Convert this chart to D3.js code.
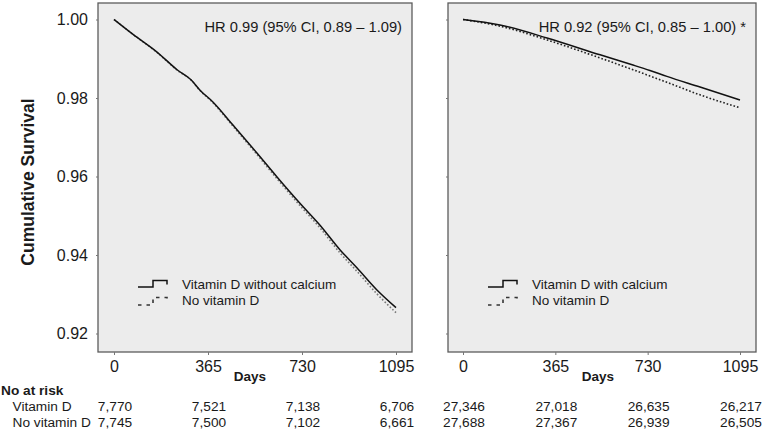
<!DOCTYPE html>
<html>
<head>
<meta charset="utf-8">
<script src="https://cdn.jsdelivr.net/npm/d3@7"></script>
<style>
  html, body { margin: 0; padding: 0; background: #fff; }
  svg { display: block; font-family: "Liberation Sans", Arial, sans-serif; }
</style>
</head>
<body>
<svg id="chart" width="762" height="430"></svg>
<script>
// ---- Data ----
const dayTicks = [0, 365, 730, 1095];
const yTicks = [0.92, 0.94, 0.96, 0.98, 1.00];

const leftDays   = [0, 74, 167, 245, 300, 334, 384, 462, 555, 633, 722, 800, 878, 944, 1021, 1095];
const leftVitD   = [1.000, 0.9962, 0.9917, 0.9872, 0.9846, 0.9820, 0.9790, 0.9731, 0.9660, 0.9599, 0.9532, 0.9476, 0.9413, 0.9367, 0.9311, 0.9266];
const leftNoVitD = [1.000, 0.9962, 0.9916, 0.9871, 0.9845, 0.9819, 0.9788, 0.9728, 0.9656, 0.9594, 0.9526, 0.9469, 0.9405, 0.9358, 0.9301, 0.9253];

const rightDays   = [0, 146, 332, 542, 672, 739, 806, 937, 1095];
const rightVitD   = [1.000, 0.9986, 0.9953, 0.9910, 0.9884, 0.9870, 0.9855, 0.9828, 0.9795];
const rightNoVitD = [1.000, 0.9983, 0.9948, 0.9902, 0.9872, 0.9856, 0.9840, 0.9808, 0.9775];

const leftHR  = "HR 0.99 (95% CI, 0.89 \u2013 1.09)";
const rightHR = "HR 0.92 (95% CI, 0.85 \u2013 1.00) *";
const leftLegend  = ["Vitamin D without calcium", "No vitamin D"];
const rightLegend = ["Vitamin D with calcium", "No vitamin D"];

const riskRowLabels = ["Vitamin D", "No vitamin D"];
const leftRiskVitD   = ["7,770", "7,521", "7,138", "6,706"];
const leftRiskNoVitD = ["7,745", "7,500", "7,102", "6,661"];
const rightRiskVitD   = ["27,346", "27,018", "26,635", "26,217"];
const rightRiskNoVitD = ["27,688", "27,367", "26,939", "26,505"];

// ---- Drawing ----
const svg = d3.select("#chart");
const textColor = "#1a1a1a";

const y = d3.scaleLinear().domain([0.92, 1.00]).range([333.5, 19.5]);
const panelTop = 3, panelBottom = 352;

function drawPanel(cfg) {
  const x = d3.scaleLinear().domain([0, 1095]).range([cfg.x0, cfg.x1]);
  const g = svg.append("g");

  g.append("rect")
    .attr("x", cfg.left).attr("y", panelTop)
    .attr("width", cfg.right - cfg.left).attr("height", panelBottom - panelTop)
    .attr("fill", "#ececec").attr("stroke", "#5c5c5c").attr("stroke-width", 1.3);

  // x axis
  const xAxis = d3.axisBottom(x).tickValues(dayTicks).tickSize(3).tickPadding(6).tickFormat(d3.format("d"));
  const xg = g.append("g").attr("transform", `translate(0,${panelBottom})`).call(xAxis);
  xg.select(".domain").remove();
  xg.selectAll("line").attr("stroke", "#777");
  xg.selectAll("text").attr("font-size", 16).attr("fill", textColor)
    .attr("font-family", "Liberation Sans, Arial, sans-serif");

  // y axis
  const yAxis = d3.axisLeft(y).tickValues(yTicks).tickSize(2).tickPadding(8)
    .tickFormat(cfg.yLabels ? d3.format(".2f") : () => "");
  const yg = g.append("g").attr("transform", `translate(${cfg.left},0)`).call(yAxis);
  yg.select(".domain").remove();
  yg.selectAll("line").attr("stroke", "#777");
  yg.selectAll("text").attr("font-size", 16).attr("fill", textColor)
    .attr("font-family", "Liberation Sans, Arial, sans-serif");

  // curves
  const line = d3.line().x(d => x(d[0])).y(d => y(d[1])).curve(d3.curveMonotoneX);
  g.append("path")
    .datum(cfg.days.map((d, i) => [d, cfg.noVit[i]]))
    .attr("d", line).attr("fill", "none")
    .attr("stroke", cfg.dotColor).attr("stroke-width", 1.6)
    .attr("stroke-dasharray", "1.6,2");
  g.append("path")
    .datum(cfg.days.map((d, i) => [d, cfg.vit[i]]))
    .attr("d", line).attr("fill", "none")
    .attr("stroke", "#111").attr("stroke-width", 1.5);

  // HR text
  g.append("text")
    .attr("x", cfg.right - 10).attr("y", 32)
    .attr("text-anchor", "end").attr("font-size", 14.7).attr("fill", textColor)
    .text(cfg.hr);

  // Days label
  g.append("text")
    .attr("x", cfg.daysX).attr("y", 381)
    .attr("text-anchor", "middle").attr("font-size", 13.5).attr("font-weight", "bold")
    .attr("fill", textColor).text("Days");

  // legend
  const lx = cfg.legendX;
  g.append("path")
    .attr("d", `M${lx},287H${lx + 15}V280.5H${lx + 29}V284.5`)
    .attr("fill", "none").attr("stroke", "#111").attr("stroke-width", 1.5);
  g.append("path")
    .attr("d", `M${lx},305H${lx + 15}V297.5H${lx + 29}V300`)
    .attr("fill", "none").attr("stroke", "#333").attr("stroke-width", 1.6)
    .attr("stroke-dasharray", "3.5,5");
  cfg.legend.forEach((t, i) => {
    g.append("text")
      .attr("x", lx + 44).attr("y", 289 + i * 16)
      .attr("font-size", 13.5).attr("fill", textColor).text(t);
  });

  // at-risk numbers
  [cfg.riskVit, cfg.riskNoVit].forEach((row, r) => {
    row.forEach((v, i) => {
      g.append("text")
        .attr("x", x(dayTicks[i]) + 1).attr("y", 411 + r * 16)
        .attr("text-anchor", "middle").attr("font-size", 13.7).attr("fill", textColor)
        .text(v);
    });
  });
}

drawPanel({
  left: 98, right: 412, x0: 114, x1: 396, yLabels: true,
  days: leftDays, vit: leftVitD, noVit: leftNoVitD, dotColor: "#777",
  hr: leftHR, daysX: 250, legendX: 138, legend: leftLegend,
  riskVit: leftRiskVitD, riskNoVit: leftRiskNoVitD
});
drawPanel({
  left: 448, right: 756, x0: 463, x1: 740, yLabels: false,
  days: rightDays, vit: rightVitD, noVit: rightNoVitD, dotColor: "#222",
  hr: rightHR, daysX: 598, legendX: 488, legend: rightLegend,
  riskVit: rightRiskVitD, riskNoVit: rightRiskNoVitD
});

// y title
svg.append("text")
  .attr("transform", "translate(34,182) rotate(-90)")
  .attr("text-anchor", "middle").attr("font-size", 17.5).attr("font-weight", "bold")
  .attr("fill", textColor).text("Cumulative Survival");

// at-risk table labels
svg.append("text").attr("x", 1).attr("y", 395)
  .attr("font-size", 13.7).attr("font-weight", "bold").attr("fill", textColor).text("No at risk");
riskRowLabels.forEach((t, i) => {
  svg.append("text").attr("x", 12.5).attr("y", 411 + i * 16)
    .attr("font-size", 13.7).attr("fill", textColor).text(t);
});
</script>
</body>
</html>
